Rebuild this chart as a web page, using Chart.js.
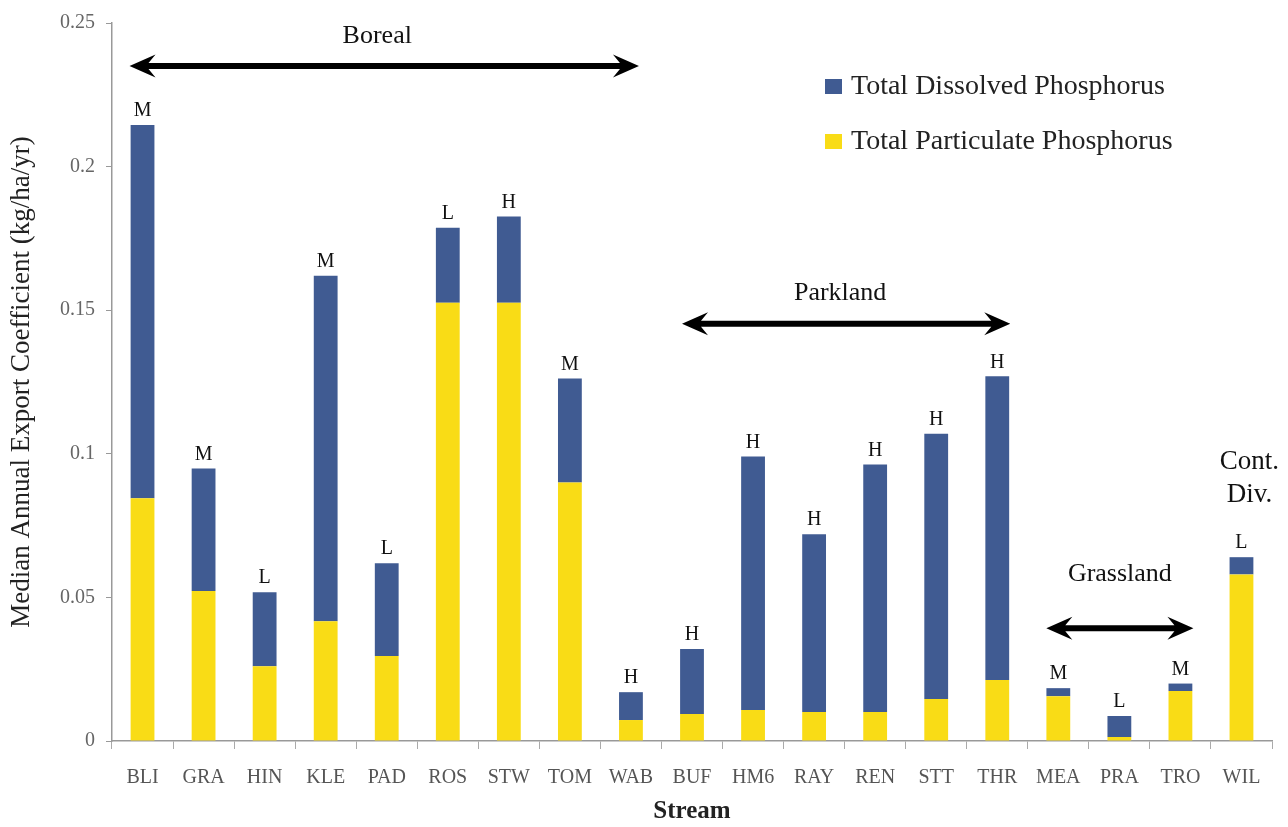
<!DOCTYPE html>
<html>
<head>
<meta charset="utf-8">
<script src="https://cdn.jsdelivr.net/npm/chart.js@4/dist/chart.umd.min.js"></script>
<style>
  html, body { margin: 0; padding: 0; background: #fff; }
  canvas { display: block; }
</style>
</head>
<body>
<canvas id="c" width="1288" height="827"></canvas>
<script>
// Median annual phosphorus export per stream (kg/ha/yr)
const streams = ['BLI','GRA','HIN','KLE','PAD','ROS','STW','TOM','WAB','BUF','HM6','RAY','REN','STT','THR','MEA','PRA','TRO','WIL'];
const particulateP = [0.0845,0.0522,0.0260,0.0417,0.0296,0.1526,0.1526,0.0900,0.0073,0.0094,0.0108,0.0101,0.0101,0.0146,0.0212,0.0156,0.0014,0.0174,0.0580];
const dissolvedP   = [0.1300,0.0427,0.0258,0.1203,0.0323,0.0261,0.0300,0.0362,0.0097,0.0226,0.0883,0.0619,0.0862,0.0924,0.1058,0.0028,0.0073,0.0026,0.0060];
const ratings      = ['M','M','L','M','L','L','H','M','H','H','H','H','H','H','H','M','L','M','L'];
const yTicks       = [0, 0.05, 0.1, 0.15, 0.2, 0.25];
const yTickLabels  = ['0','0.05','0.1','0.15','0.2','0.25'];
const regionNames  = ['Boreal','Parkland','Grassland'];
const regionFirst  = ['BLI','BUF','MEA'];
const regionLast   = ['WAB','THR','TRO'];
const dividerStream = 'WIL';
const dividerLines  = ['Cont.','Div.'];

const SERIF = "'Liberation Serif', 'Times New Roman', serif";
const BLUE = '#405B92';
const YELLOW = '#F9DC16';

// Drawing style for the ecoregion arrows (level in data units, pixel offsets)
const regionStyle = {
  Boreal:    { level: 0.2350, padL: 13, padR: 8,  labelGap: 30, labelShift: -7 },
  Parkland:  { level: 0.1453, padL: 10, padR: 13, labelGap: 31, labelShift: -6 },
  Grassland: { level: 0.0393, padL: 12, padR: 13, labelGap: 54, labelShift: 0 }
};

function doubleArrow(ctx, x1, x2, y) {
  const headL = 26, headH = 11.5, notch = 7, shaft = 3;
  ctx.beginPath();
  ctx.moveTo(x1, y);
  ctx.lineTo(x1 + headL, y - headH);
  ctx.lineTo(x1 + headL - notch, y - shaft);
  ctx.lineTo(x2 - headL + notch, y - shaft);
  ctx.lineTo(x2 - headL, y - headH);
  ctx.lineTo(x2, y);
  ctx.lineTo(x2 - headL, y + headH);
  ctx.lineTo(x2 - headL + notch, y + shaft);
  ctx.lineTo(x1 + headL - notch, y + shaft);
  ctx.lineTo(x1 + headL, y + headH);
  ctx.closePath();
  ctx.fill();
}

const annotations = {
  id: 'annotations',
  afterDatasetsDraw(chart) {
    const ctx = chart.ctx;
    const xs = chart.scales.x, ys = chart.scales.y;
    ctx.save();
    ctx.fillStyle = '#111';
    ctx.textAlign = 'center';

    // Flow-regime letters above each stacked bar
    ctx.font = '20px ' + SERIF;
    ctx.textBaseline = 'bottom';
    streams.forEach((s, i) => {
      const total = particulateP[i] + dissolvedP[i];
      ctx.fillText(ratings[i], xs.getPixelForValue(i), ys.getPixelForValue(total) - 4);
    });

    // Ecoregion arrows and names
    regionNames.forEach((name, k) => {
      const st = regionStyle[name];
      const x1 = xs.getPixelForValue(streams.indexOf(regionFirst[k])) - st.padL;
      const x2 = xs.getPixelForValue(streams.indexOf(regionLast[k])) + st.padR;
      const y = ys.getPixelForValue(st.level);
      ctx.fillStyle = '#000';
      doubleArrow(ctx, x1, x2, y);
      ctx.fillStyle = '#111';
      ctx.font = '26px ' + SERIF;
      ctx.textBaseline = 'middle';
      ctx.fillText(name, (x1 + x2) / 2 + st.labelShift, y - st.labelGap);
    });

    // Continental divide note over its stream
    const dx = xs.getPixelForValue(streams.indexOf(dividerStream)) + 8;
    ctx.font = '27px ' + SERIF;
    ctx.textBaseline = 'middle';
    ctx.fillText(dividerLines[0], dx, 462);
    ctx.fillText(dividerLines[1], dx, 495);

    // Legend (dissolved listed first)
    const items = [chart.data.datasets[1], chart.data.datasets[0]];
    ctx.textAlign = 'left';
    ctx.font = '28px ' + SERIF;
    items.forEach((ds, j) => {
      const cy = 86 + j * 55;
      ctx.fillStyle = ds.backgroundColor;
      ctx.fillRect(825, cy - 7, 17, 15);
      ctx.fillStyle = '#222';
      ctx.fillText(ds.label, 851, cy + 1);
    });
    ctx.restore();
  }
};

new Chart(document.getElementById('c'), {
  type: 'bar',
  data: {
    labels: streams,
    datasets: [
      { label: 'Total Particulate Phosphorus', data: particulateP, backgroundColor: YELLOW },
      { label: 'Total Dissolved Phosphorus', data: dissolvedP, backgroundColor: BLUE }
    ]
  },
  options: {
    responsive: false,
    animation: false,
    devicePixelRatio: 1,
    layout: { padding: { top: 22, right: 16, left: 0, bottom: 0 } },
    datasets: { bar: { categoryPercentage: 1, barPercentage: 0.39 } },
    plugins: { legend: { display: false }, tooltip: { enabled: false } },
    scales: {
      x: {
        stacked: true,
        grid: { display: true, drawOnChartArea: false, offset: true, tickLength: 8, color: '#aaa' },
        border: { color: '#999', width: 1.5 },
        ticks: { color: '#555', font: { family: SERIF, size: 20 }, padding: 17, maxRotation: 0 },
        title: { display: true, text: 'Stream', color: '#222', font: { family: SERIF, size: 25, weight: 'bold' }, padding: { top: 6, bottom: 0 } },
        afterFit(scale) { scale.height = 86; }
      },
      y: {
        stacked: true,
        min: 0, max: 0.25,
        afterBuildTicks(scale) { scale.ticks = yTicks.map(v => ({ value: v })); },
        grid: { display: true, drawOnChartArea: false, tickLength: 6, color: '#999' },
        border: { color: '#999', width: 1.5 },
        ticks: { color: '#666', font: { family: SERIF, size: 20 }, padding: 11,
                 callback: (v, i) => yTickLabels[i] },
        title: { display: true, text: 'Median Annual Export Coefficient (kg/ha/yr)', color: '#222',
                 font: { family: SERIF, size: 27 }, padding: { top: 6, bottom: 4 } },
        afterFit(scale) { scale.width = 112; }
      }
    }
  },
  plugins: [annotations]
});
</script>
</body>
</html>
